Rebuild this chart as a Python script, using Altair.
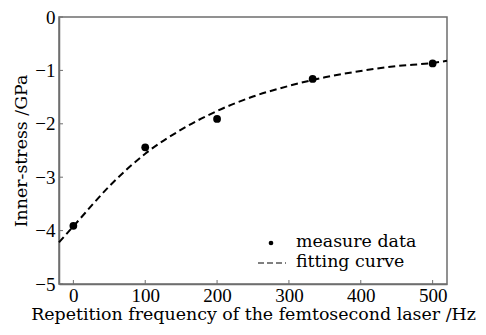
import altair as alt
import pandas as pd

# measured data
freq = [0, 100, 200, 333, 500]
stress = [-3.91, -2.44, -1.91, -1.16, -0.87]

# fitting curve
fit_x = [-20, 0, 50, 100, 150, 200, 250, 300, 350, 400, 450, 500, 520]
fit_y = [-4.22, -3.92, -3.17, -2.56, -2.11, -1.76, -1.49, -1.29, -1.13, -1.01, -0.92, -0.86, -0.82]

x_ticks = [0, 100, 200, 300, 400, 500]
y_ticks = [0, -1, -2, -3, -4, -5]

legend_labels = ["measure data", "fitting curve"]

FONT = "Liberation Serif"
TFONT = "DejaVu Serif"
TSIZE = 17.4
AX = "#6e6e6e"
H = 267

pts = pd.DataFrame({"x": freq, "y": stress})
fit = pd.DataFrame({"x": fit_x, "y": fit_y})

xs = alt.Scale(domain=[-20, 520], nice=False, zero=False)
ys = alt.Scale(domain=[-5, 0], nice=False, zero=False)

xaxis = alt.Axis(values=x_ticks, title="Repetition frequency of the femtosecond laser /Hz",
                 grid=False, tickSize=0, labelPadding=2, titlePadding=0,
                 domainColor=AX, domainWidth=1.5)
yaxis = alt.Axis(values=y_ticks, title="Inner-stress /GPa", grid=False, tickSize=0,
                 labelPadding=4, titlePadding=4, domainColor=AX, domainWidth=1.5)

line = alt.Chart(fit).mark_line(color="black", strokeWidth=2, strokeDash=[7, 4],
                                interpolate="monotone").encode(
    x=alt.X("x:Q", scale=xs, axis=xaxis),
    y=alt.Y("y:Q", scale=ys, axis=yaxis),
)

points = alt.Chart(pts).mark_circle(color="black", size=60, opacity=1).encode(
    x=alt.X("x:Q", scale=xs), y=alt.Y("y:Q", scale=ys))

# inward ticks
xt = alt.Chart(pd.DataFrame({"t": x_ticks})).mark_rule(color=AX, strokeWidth=1).encode(
    x=alt.X("t:Q", scale=xs), y=alt.value(H), y2=alt.value(H - 4))
yt = alt.Chart(pd.DataFrame({"t": y_ticks})).mark_rule(color=AX, strokeWidth=1).encode(
    y=alt.Y("t:Q", scale=ys), x=alt.value(0), x2=alt.value(4))

# legend
leg0 = pd.DataFrame({"label": [legend_labels[0]]})
leg1 = pd.DataFrame({"label": [legend_labels[1]]})
txt = dict(font=TFONT, fontSize=TSIZE, align="left", baseline="middle", color="black")
leg_text0 = alt.Chart(leg0).mark_text(**txt).encode(
    text="label:N", x=alt.value(237), y=alt.value(225))
leg_text1 = alt.Chart(leg1).mark_text(**txt).encode(
    text="label:N", x=alt.value(237), y=alt.value(245))
leg_dot = alt.Chart(leg0).mark_circle(color="black", size=22, opacity=1).encode(
    x=alt.value(212), y=alt.value(226))
leg_line = alt.Chart(leg1).mark_rule(color="black", strokeWidth=1, strokeDash=[6, 3]).encode(
    x=alt.value(199), x2=alt.value(227), y=alt.value(246))

chart = alt.layer(line, points, xt, yt, leg_text0, leg_text1, leg_dot, leg_line).properties(
    width=388, height=H,
    background="white",
    autosize=alt.AutoSizeParams(type="none"),
    padding={"left": 51, "top": 9, "right": 31, "bottom": 43},
).configure_view(stroke=AX, strokeWidth=1.5).configure_axis(
    labelFont=FONT, titleFont=TFONT, labelFontSize=19, titleFontSize=TSIZE,
    labelColor="black", titleColor="black", titleFontWeight="normal",
)

chart.save("out.html", embed_options={"renderer": "svg", "actions": False})
